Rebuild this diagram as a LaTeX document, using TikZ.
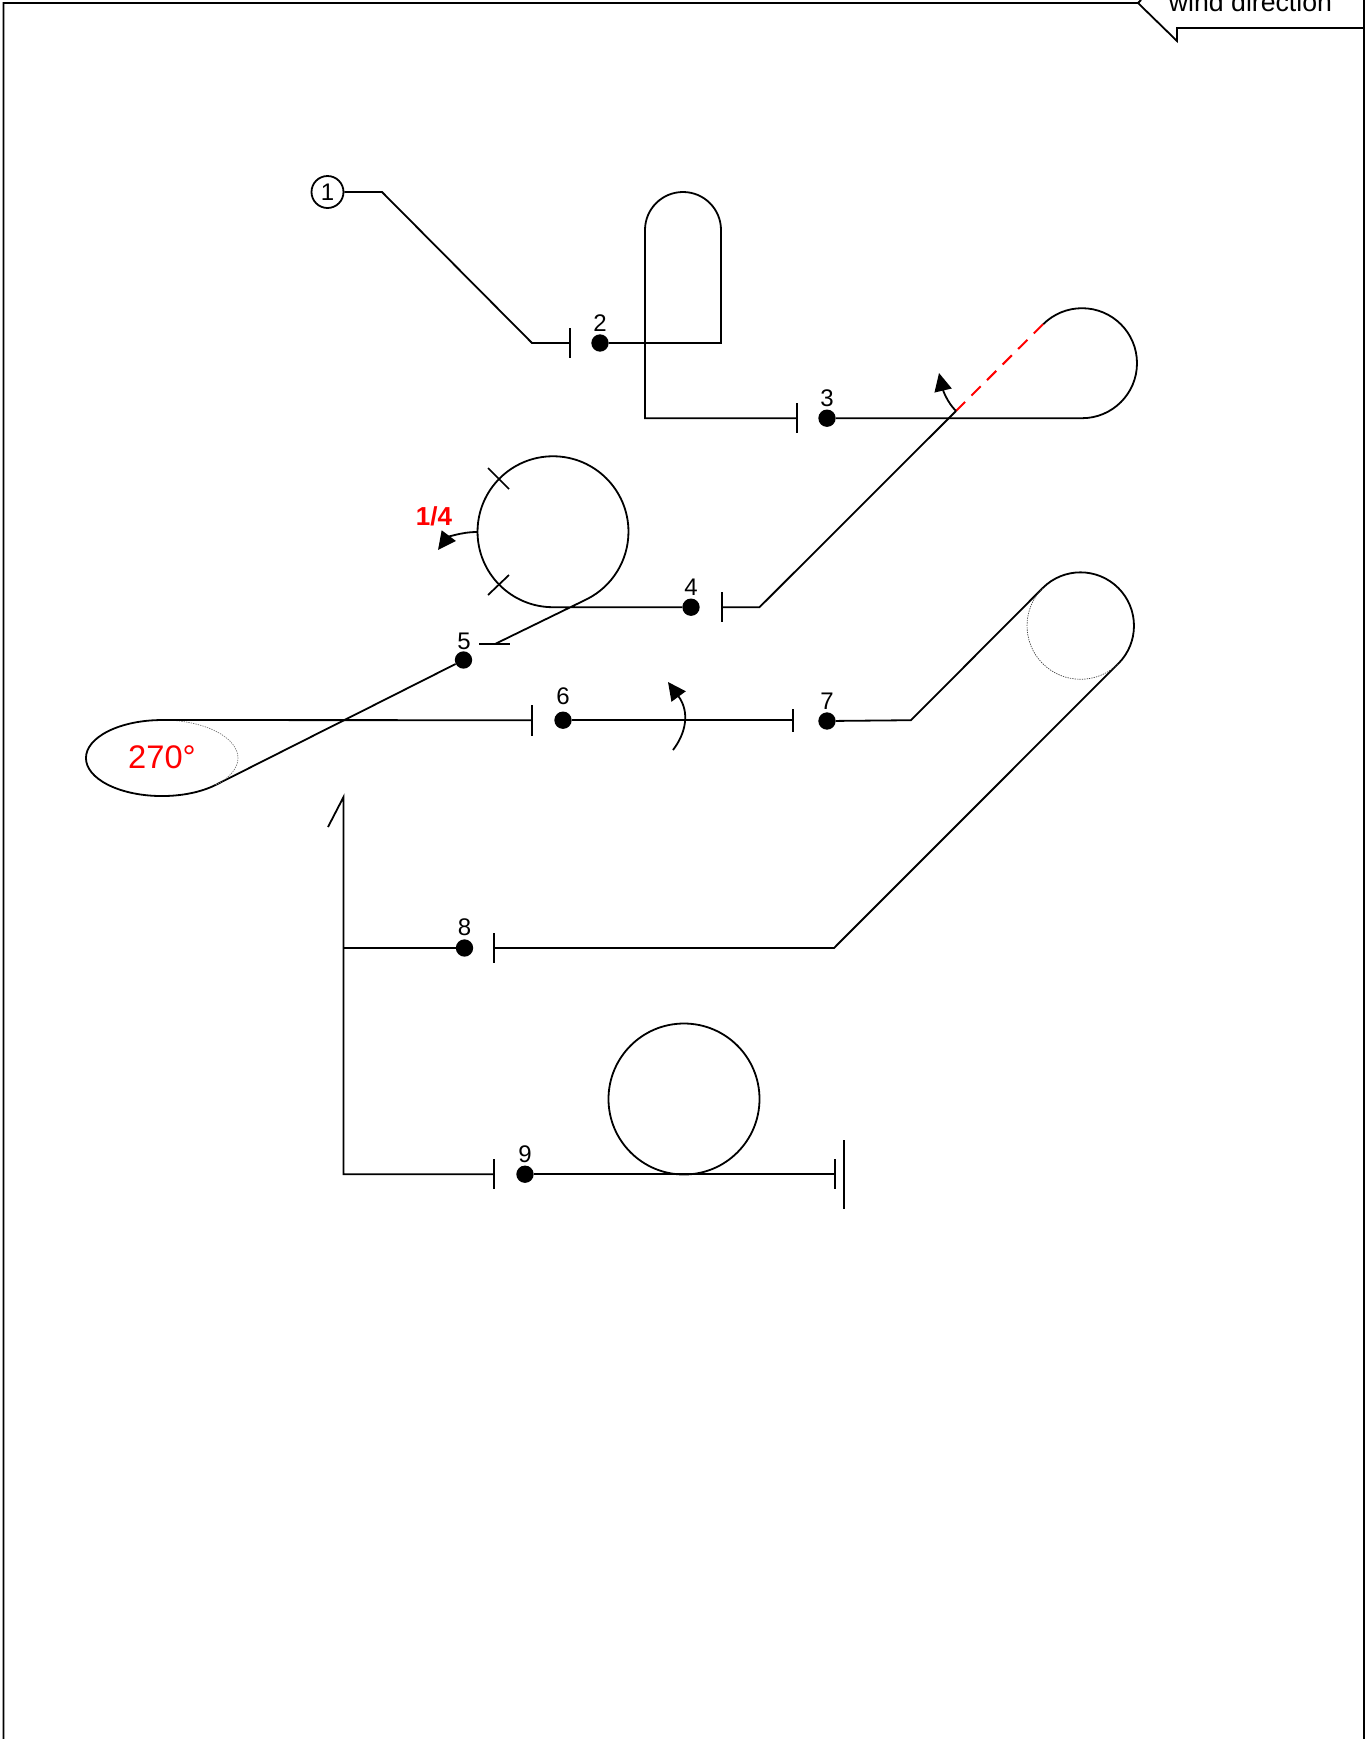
\documentclass[tikz,border=0pt]{standalone}
\usepackage{fontspec}
\setmainfont{Liberation Sans}
\usetikzlibrary{arrows.meta}
\tikzset{
  x=0.75pt,y=-0.75pt,
  wire/.style={line width=1.35pt,line join=miter,draw=black},
  thin tick/.style={line width=1.3pt,draw=black},
  dotnode/.style={circle,fill=black,draw=none,minimum size=13pt,inner sep=0pt},
  numlabel/.style={inner sep=0pt,font=\fontsize{18}{20}\selectfont},
  turn/.style={line width=1.35pt,-{Triangle[length=13.5pt,width=13pt]}},
  reddash/.style={line width=1.5pt,draw=red,dash pattern=on 9.8pt off 6.7pt},
  hidden/.style={line width=0.5pt,draw=black!75,dash pattern=on 1pt off 0.8pt},
}
\begin{document}
\begin{tikzpicture}
\useasboundingbox (0,0) rectangle (1367,1739);
% frame and callout
\coordinate (fbl) at (3.5,1739); \coordinate (ftl) at (3.5,3);
\coordinate (fn) at (1138,3); \coordinate (fn0) at (1141,0);
\coordinate (fa) at (1177,41); \coordinate (fb) at (1177,28);
\coordinate (fc) at (1364,28); \coordinate (fd) at (1364,1739);
\draw[wire] (fbl) -- (ftl) -- (fn) -- (fa) -- (fb) -- (fc) -- (fd);
\draw[wire] (fn) -- (fn0);
\draw[wire] (fc) -- (1364,0);
\node[anchor=base,inner sep=0pt,font=\fontsize{20}{22}\selectfont] (wind) at (1250.5,11) {wind direction};
% named points
\node[circle,draw,line width=1.35pt,minimum size=24pt,inner sep=0pt,font=\fontsize{18}{20}\selectfont] (n1) at (327.5,192) {1};
\coordinate (a1) at (382,192); \coordinate (a2) at (532,343); \coordinate (t2) at (570,343);
\node[dotnode] (d2) at (600,343) {};
\node[numlabel] (l2) at (600,323) {2};
\coordinate (b1) at (721,343); \coordinate (b2) at (721,230); \coordinate (b3) at (645,418.2);
\coordinate (t3) at (797,418.2);
\node[dotnode] (d3) at (827,418.2) {};
\node[numlabel] (l3) at (827,398) {3};
\coordinate (c1) at (1082,418.2); \coordinate (c2) at (1043,324.2); \coordinate (c3) at (956,411);
\coordinate (e1) at (759.5,607.2); \coordinate (t4) at (722,607.2);
\node[dotnode] (d4) at (691,607.2) {};
\node[numlabel] (l4) at (691,587) {4};
\coordinate (g1) at (553,607.2); \coordinate (g2) at (495,644);
\node[dotnode] (d5) at (463.5,660) {};
\node[numlabel] (l5) at (464,641) {5};
\coordinate (h1) at (215.7,784.9); \coordinate (h2) at (162,720); \coordinate (t6) at (532,720.2);
\node[dotnode] (d6) at (563,720.2) {};
\node[numlabel] (l6) at (563,696) {6};
\coordinate (t7) at (793,720.2);
\node[dotnode] (d7) at (827,721) {};
\node[numlabel] (l7) at (827,701) {7};
\coordinate (i1) at (911,720.2); \coordinate (i2) at (1042.7,588); \coordinate (i3) at (1118.3,663.5);
\coordinate (j1) at (834,948); \coordinate (t8) at (494.5,948);
\node[dotnode] (d8) at (464.5,948) {};
\node[numlabel] (l8) at (464.5,927) {8};
\coordinate (k0) at (328,827); \coordinate (k1) at (343.5,797); \coordinate (k2) at (343.5,948); \coordinate (k3) at (343.5,1174.2);
\coordinate (t9) at (494.5,1174.2);
\node[dotnode] (d9) at (525,1174.2) {};
\node[numlabel] (l9) at (525,1154) {9};
\coordinate (tend) at (835,1174.2);
% wires
\draw[wire] (n1) -- (a1) -- (a2) -- (t2);
\draw[thin tick] (570,328) -- (570,358);
\draw[wire] (d2) -- (b1) -- (b2) arc[start angle=0,end angle=180,radius=28.5pt] -- (b3) -- (t3);
\draw[thin tick] (797,403) -- (797,433);
\draw[wire] (d3) -- (c1) arc[start angle=270,end angle=495,radius=41.25pt];
\draw[reddash] (c2) -- (c3);
\draw[wire] (c3) -- (e1) -- (t4);
\draw[thin tick] (722,592) -- (722,622);
\draw[wire] (d4) -- (g1) arc[start angle=270,end angle=-63.43,radius=56.6pt] -- (g2);
\draw[thin tick] (479,644) -- (510,644);
\draw[thin tick] (488,468) -- (509,489);
\draw[thin tick] (509,575) -- (488,595);
\draw[wire] (d5) -- (h1);
\draw[hidden,draw=black!55] (h1) arc[start angle=315,end angle=450,x radius=57pt,y radius=28.5pt];
\draw[wire] (h1) arc[start angle=315,end angle=90,x radius=57pt,y radius=28.5pt] -- (t6);
\draw[thin tick] (532,705) -- (532,736);
\draw[wire] (d6) -- (t7);
\draw[thin tick] (793,709) -- (793,732);
\draw[wire] (d7) -- (i1) -- (i2) arc[start angle=135,end angle=-45,radius=40.1pt] -- (j1) -- (t8);
\draw[hidden] (i2) arc[start angle=135,end angle=315,radius=40.1pt];
\draw[thin tick] (494.2,933) -- (494.2,963);
\draw[wire] (k0) -- (k1) -- (k3) -- (t9);
\draw[wire] (k2) -- (d8);
\draw[thin tick] (494.2,1159) -- (494.2,1189);
\draw[wire] (d9) -- (tend);
\draw[thin tick] (835,1159) -- (835,1189);
\draw[thin tick] (844,1140) -- (844,1208.5);
\node[circle,draw,line width=1.35pt,minimum size=113.25pt,inner sep=0pt] (big) at (684,1099) {};
% turn arrows
\coordinate (u1s) at (477,532); \coordinate (u1e) at (438,550);
\draw[turn] (u1s) .. controls (460,532) and (447,538) .. (u1e);
\coordinate (u3e) at (939,373);
\draw[turn] (c3) .. controls (947,402) and (943,390) .. (u3e);
\coordinate (u6s) at (673,750); \coordinate (u6e) at (668,682);
\draw[turn] (u6s) .. controls (686,733) and (690,712) .. (u6e);
% labels
\node[inner sep=0pt,text=red,font=\bfseries\fontsize{19.5}{22}\selectfont] (frac) at (434,516) {1/4};
\node[inner sep=0pt,text=red,font=\fontsize{24.5}{28}\selectfont] (deg) at (162,757.5) {270°};
\end{tikzpicture}
\end{document}
